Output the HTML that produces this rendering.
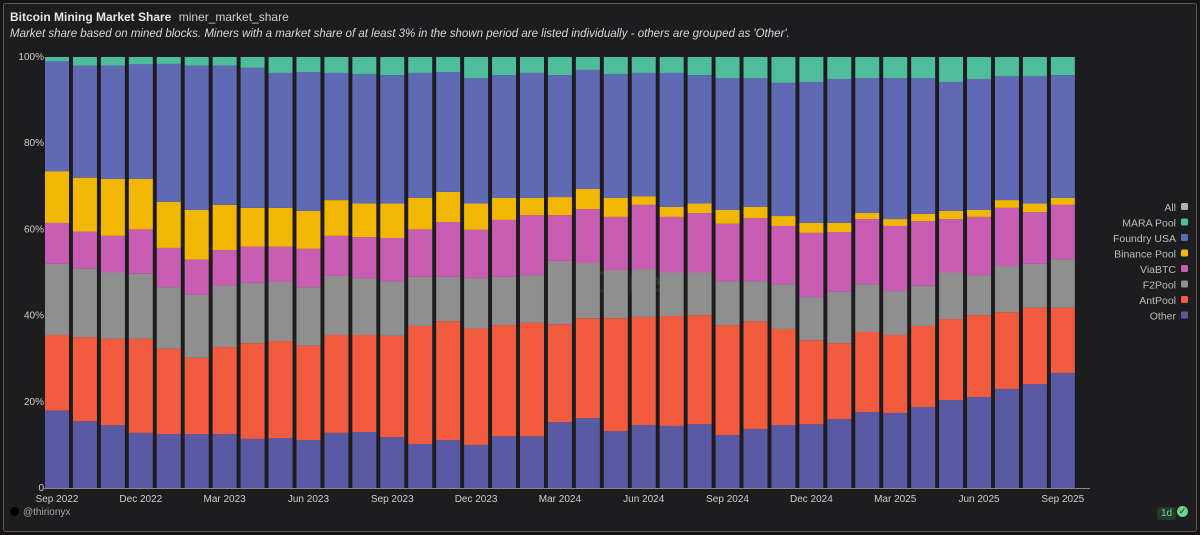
<!DOCTYPE html>
<html><head><meta charset="utf-8"><style>
body{margin:0;background:#141414;width:1200px;height:535px;overflow:hidden;font-family:"Liberation Sans",sans-serif}
#card{position:absolute;left:3px;top:3px;width:1192px;height:527px;background:#1d1d1f;border:1px solid #6b5552;border-radius:3px}
.t{position:absolute;color:#e6e6e6;white-space:nowrap}
</style></head><body>
<div id="card"></div>
<div class="t" style="left:10px;top:10px;font-size:12px;font-weight:bold">Bitcoin Mining Market Share <span style="font-weight:normal;color:#cfcfcf;margin-left:4px">miner_market_share</span></div>
<div class="t" style="left:10px;top:28px;font-size:11.5px;font-style:italic;color:#d8d8d8">Market share based on mined blocks. Miners with a market share of at least 3% in the shown period are listed individually - others are grouped as 'Other'.</div>
<svg id="chart" width="1200" height="535" style="position:absolute;left:0;top:0"></svg>
<div class="t" style="left:10px;top:507px;font-size:10px;color:#aaa"><span style="display:inline-block;width:9px;height:9px;border-radius:50%;background:#000;vertical-align:-1px;margin-right:4px"></span>@thirionyx</div>
<div class="t" style="left:1157px;top:507px;font-size:10px;color:#7fd3a0;background:#233a2c;padding:1px 4px;border-radius:3px">1d</div>
<div class="t" style="left:1177px;top:506px;width:11px;height:11px;border-radius:50%;background:#6fd08f;color:#1d1d1f;font-size:9px;text-align:center;line-height:11px">✓</div>
<script>
const categories=["Sep 2022","Oct 2022","Nov 2022","Dec 2022","Jan 2023","Feb 2023","Mar 2023","Apr 2023","May 2023","Jun 2023","Jul 2023","Aug 2023","Sep 2023","Oct 2023","Nov 2023","Dec 2023","Jan 2024","Feb 2024","Mar 2024","Apr 2024","May 2024","Jun 2024","Jul 2024","Aug 2024","Sep 2024","Oct 2024","Nov 2024","Dec 2024","Jan 2025","Feb 2025","Mar 2025","Apr 2025","May 2025","Jun 2025","Jul 2025","Aug 2025","Sep 2025"];
const other=[18,15.5,14.6,12.8,12.5,12.5,12.5,11.4,11.6,11.1,12.8,13,11.8,10.2,11.1,10,12,12,15.3,16.2,13.2,14.6,14.4,14.8,12.3,13.7,14.6,14.8,16,17.6,17.4,18.8,20.4,21.1,23,24.1,26.7];
const antpool=[17.5,19.5,20,21.8,19.8,17.7,20.2,22.2,22.5,21.9,22.7,22.5,23.5,27.4,27.6,27,25.8,26.3,22.7,23.2,26.2,25.1,25.5,25.3,25.5,25,22.3,19.5,17.6,18.6,18.1,18.8,18.8,19,17.8,17.7,15.1];
const f2pool=[16.5,16,15.4,15.1,14.3,14.6,14.3,14,13.7,13.6,13.7,13.2,12.7,11.4,10.3,11.7,11.2,11.1,14.7,12.8,11.2,11.1,10.1,9.9,10.2,9.3,10.4,10,11.9,11.1,10.2,9.3,10.8,9.3,10.7,10.2,11.3];
const viabtc=[9.5,8.5,8.5,10.3,9.1,8.2,8.2,8.4,8.2,8.9,9.3,9.5,10,11,12.7,11.2,13.2,13.9,10.6,12.5,12.3,14.9,12.9,13.8,13.3,14.6,13.5,14.9,13.9,15.1,15.1,15,12.4,13.5,13.5,12,12.6];
const binance=[12,12.5,13.2,11.7,10.7,11.5,10.5,9,9,8.8,8.3,7.8,8,7.3,7,6.1,5.1,4,4.2,4.7,4.4,2,2.3,2.2,3.2,2.6,2.3,2.3,2.1,1.4,1.6,1.7,1.9,1.6,1.8,2,1.6];
const foundry=[25.5,26,26.3,26.6,32,33.5,32.3,32.5,31.3,32.2,29.5,30,29.8,29,27.8,29.1,28.5,29,28.3,27.6,28.7,28.6,31.1,29.8,30.6,29.9,30.9,32.7,33.4,31.3,32.7,31.5,29.9,30.4,28.8,29.6,28.5];
const mara=[1,2,2,1.7,1.6,2,2,2.5,3.7,3.5,3.7,4,4.2,3.7,3.5,4.9,4.2,3.7,4.2,3,4,3.7,3.7,4.2,4.9,4.9,6,5.8,5.1,4.9,4.9,4.9,5.8,5.1,4.4,4.4,4.2];
const yTicks=[0,20,40,60,80,100];
const yTickLabels=["0","20%","40%","60%","80%","100%"];
const series=[["other",other,"#5a59a3"],["antpool",antpool,"#f25b3d"],["f2pool",f2pool,"#8f8f8f"],["viabtc",viabtc,"#c95db4"],["binance-pool",binance,"#f2b705"],["foundry-usa",foundry,"#5f69b4"],["mara-pool",mara,"#4dbd9b"]];
const legend=[["All","#b0b0b0"],["MARA Pool","#4dbd9b"],["Foundry USA","#5f69b4"],["Binance Pool","#f2b705"],["ViaBTC","#c95db4"],["F2Pool","#8f8f8f"],["AntPool","#f25b3d"],["Other","#5a59a3"]];
const svg=document.getElementById('chart');const NS="http://www.w3.org/2000/svg";
const x0=57,step=27.94,bw=24,yb=488,yt=57;
const X=i=>x0+i*step, Y=v=>yb-(v/100)*(yb-yt);
function mk(t,a,p){const e=document.createElementNS(NS,t);for(const k in a)e.setAttribute(k,a[k]);(p||svg).appendChild(e);return e;}
const wm=mk('text',{x:590,y:292,'font-size':30,fill:'#ffffff','fill-opacity':0.08,'font-family':'Liberation Sans'});wm.textContent='Dune';


categories.forEach((c,i)=>{let cum=0;
 series.forEach(([n,vals,col])=>{const v=vals[i];const r=mk('rect',{x:X(i)-bw/2,y:Y(cum+v),width:bw,height:Y(cum)-Y(cum+v),fill:col});
 
 
 cum+=v;});
 if(i%3===0){const t=mk('text',{x:X(i),y:502,'font-size':10,fill:'#cfcfcf','text-anchor':'middle','font-family':'Liberation Sans'});t.textContent=c;
 
 }
});
yTicks.forEach((v,i)=>{const t=mk('text',{x:44,y:Y(v)+3,'font-size':10,fill:'#cfcfcf','text-anchor':'end','font-family':'Liberation Sans'});t.textContent=yTickLabels[i];
 
 });
mk('line',{x1:44,x2:1090,y1:yb+0.5,y2:yb+0.5,stroke:'#888','stroke-width':1});
legend.forEach(([n,c],i)=>{const y=207+i*15.5;
 const g=mk('g',{});
 
 const t=mk('text',{x:1176,y:y+4,'font-size':10.5,fill:'#bdbdbd','text-anchor':'end','font-family':'Liberation Sans'},g);t.textContent=n;
 mk('rect',{x:1181,y:y-4,width:7,height:7,rx:1.5,fill:c},g);});
</script>
</body></html>
